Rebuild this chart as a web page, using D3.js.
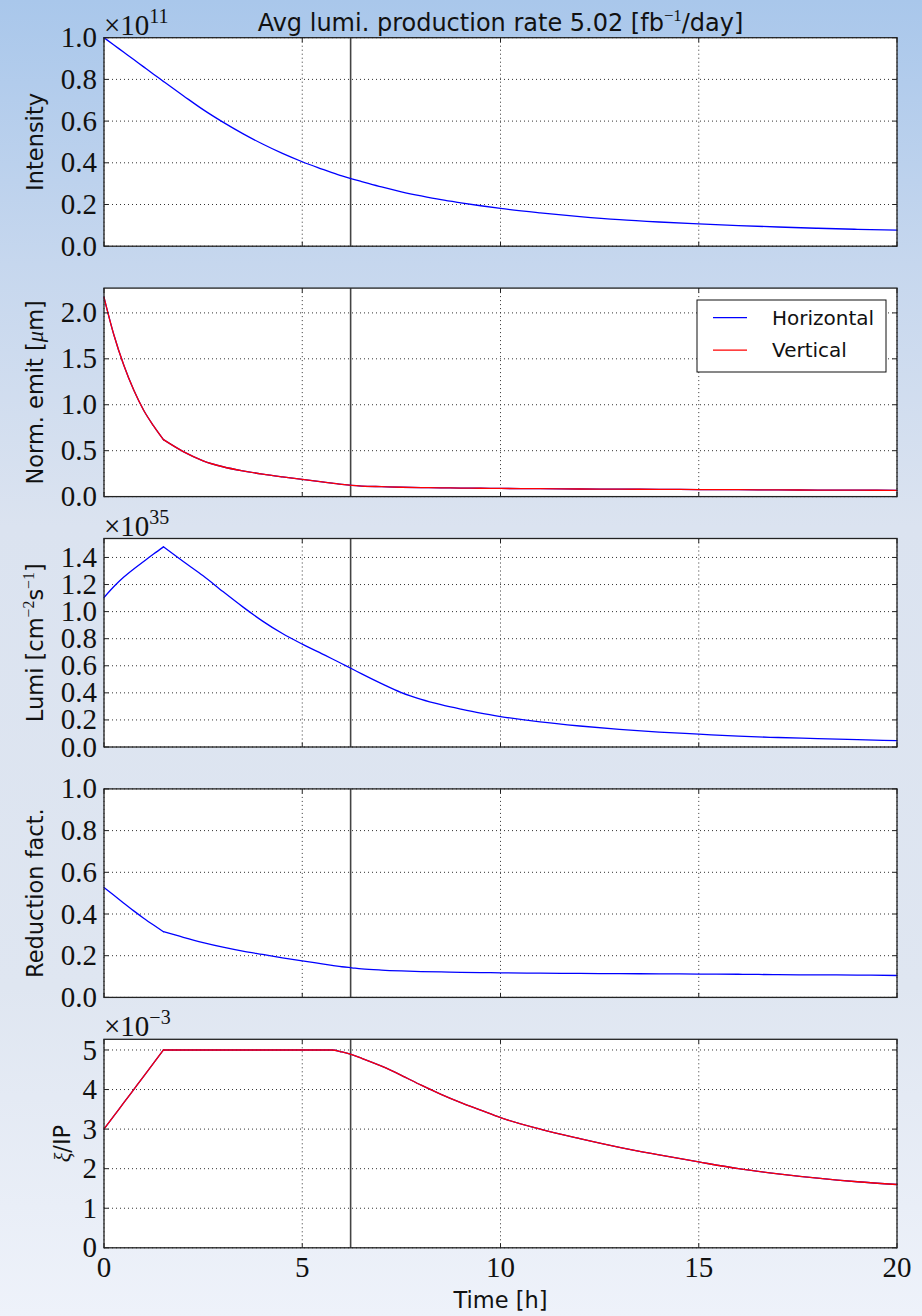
<!DOCTYPE html>
<html lang="en">
<head>
<meta charset="UTF-8">
<title>Avg lumi. production rate</title>
<script src="https://d3js.org/d3.v7.min.js"></script>
<style>
    body { margin: 0; padding: 0; overflow: hidden; }
    svg { display: block; }
    .tick-label { font-family: "Liberation Serif", serif; font-size: 29px; fill: #111; }
    .axis-label { font-family: "DejaVu Sans", sans-serif; font-size: 22.5px; fill: #111; }
    .grid { stroke: #333; stroke-width: 1; stroke-dasharray: 1,3; }
    .spine { fill: none; stroke: #222; stroke-width: 1.3; }
    .legend text { font-family: "DejaVu Sans", sans-serif; font-size: 20px; fill: #111; }
</style>
</head>
<body>
<svg id="chart"></svg>
<script>
// time axis [h], shared by every series
const time = [0, 0.25, 0.5, 0.75, 1, 1.25, 1.5, 2, 2.5, 3, 3.5, 4, 4.5, 5, 5.5, 5.75, 6, 6.25, 6.5, 7, 7.5, 8, 8.5, 9, 9.5, 10, 11, 12, 13, 14, 15, 16, 17, 18, 19, 20];

// intensity, x1e11
const intensity = [1.0, 0.965, 0.93, 0.895, 0.86, 0.825, 0.79, 0.722, 0.655, 0.595, 0.54, 0.49, 0.445, 0.405, 0.37, 0.353, 0.337, 0.323, 0.31, 0.284, 0.261, 0.241, 0.223, 0.208, 0.194, 0.181, 0.16, 0.142, 0.127, 0.116, 0.107, 0.099, 0.092, 0.086, 0.081, 0.077];

// normalised emittance [um]
const emitH = [2.17, 1.76, 1.43, 1.16, 0.94, 0.77, 0.62, 0.49, 0.39, 0.325, 0.28, 0.245, 0.215, 0.187, 0.16, 0.147, 0.133, 0.122, 0.115, 0.108, 0.102, 0.098, 0.095, 0.093, 0.091, 0.089, 0.086, 0.083, 0.081, 0.079, 0.077, 0.075, 0.073, 0.071, 0.07, 0.068];
const emitV = [2.17, 1.76, 1.43, 1.16, 0.94, 0.77, 0.62, 0.49, 0.39, 0.325, 0.28, 0.245, 0.215, 0.187, 0.16, 0.147, 0.133, 0.122, 0.115, 0.108, 0.102, 0.098, 0.095, 0.093, 0.091, 0.089, 0.086, 0.083, 0.081, 0.079, 0.077, 0.075, 0.073, 0.071, 0.07, 0.068];

// luminosity, x1e35 cm^-2 s^-1
const lumi = [1.104, 1.185, 1.255, 1.315, 1.37, 1.425, 1.478, 1.37, 1.265, 1.148, 1.035, 0.93, 0.838, 0.76, 0.688, 0.652, 0.615, 0.578, 0.54, 0.468, 0.402, 0.352, 0.313, 0.28, 0.25, 0.225, 0.185, 0.155, 0.13, 0.11, 0.095, 0.08, 0.07, 0.062, 0.054, 0.047];

// geometric reduction factor
const reduction = [0.527, 0.49, 0.452, 0.415, 0.38, 0.347, 0.315, 0.288, 0.263, 0.241, 0.222, 0.206, 0.19, 0.175, 0.161, 0.154, 0.147, 0.142, 0.137, 0.131, 0.127, 0.124, 0.122, 0.12, 0.119, 0.118, 0.116, 0.115, 0.114, 0.113, 0.112, 0.111, 0.109, 0.108, 0.107, 0.105];

// beam-beam parameter per IP, x1e-3
const xiH = [3.0, 3.333, 3.667, 4.0, 4.333, 4.667, 5.0, 5.0, 5.0, 5.0, 5.0, 5.0, 5.0, 5.0, 5.0, 5.0, 4.95, 4.88, 4.79, 4.59, 4.36, 4.11, 3.88, 3.67, 3.48, 3.29, 3.0, 2.76, 2.54, 2.35, 2.17, 2.0, 1.87, 1.76, 1.67, 1.6];
const xiV = [3.0, 3.333, 3.667, 4.0, 4.333, 4.667, 5.0, 5.0, 5.0, 5.0, 5.0, 5.0, 5.0, 5.0, 5.0, 5.0, 4.95, 4.88, 4.79, 4.59, 4.36, 4.11, 3.88, 3.67, 3.48, 3.29, 3.0, 2.76, 2.54, 2.35, 2.17, 2.0, 1.87, 1.76, 1.67, 1.6];

const tRampEnd = 1.5;          // end of the initial ramp (sharp kink in every curve)
const tLevel = 6.22;           // vertical marker
const xTicks = [0, 5, 10, 15, 20];
const legendNames = ["Horizontal", "Vertical"];

const BLUE = "#0000ff", RED = "#ff0000";

const W = 922, H = 1316;
const left = 104, right = 897;
const panelTop0 = 37.7, panelStep = 250.4, panelH = 208.5;

const svg = d3.select("#chart").attr("width", W).attr("height", H);

// background gradient
const defs = svg.append("defs");
const grad = defs.append("linearGradient").attr("id", "bg")
    .attr("x1", 0).attr("y1", 0).attr("x2", 0).attr("y2", 1);
[["0%", "#a9c7eb"], ["20%", "#c6d7ee"], ["40%", "#dbe3f0"], ["75%", "#dfe6f1"], ["100%", "#eef2fa"]]
    .forEach(s => grad.append("stop").attr("offset", s[0]).attr("stop-color", s[1]));
svg.append("rect").attr("width", W).attr("height", H).attr("fill", "url(#bg)");

const x = d3.scaleLinear().domain([0, 20]).range([left, right]);

// rich text helper: parts = [{t, sup, serif, italic}]
function richText(sel, parts, baseSize) {
    let raised = false;
    parts.forEach(p => {
        const ts = sel.append("tspan").text(p.t);
        if (p.serif) ts.attr("font-family", "'Liberation Serif', serif");
        if (p.italic) ts.attr("font-style", "italic");
        if (p.sup && !raised) { ts.attr("dy", -baseSize * 0.42); raised = true; }
        else if (!p.sup && raised) { ts.attr("dy", baseSize * 0.42); raised = false; }
        if (p.sup) ts.attr("font-size", baseSize * 0.7);
    });
}

const panels = [
    { series: [{ v: intensity, c: BLUE }], domain: [0, 1.0], ticks: d3.range(0, 1.01, 0.2), fmt: d3.format(".1f"),
      label: [{ t: "Intensity" }], labelX: 43, exp: "11" },
    { series: [{ v: emitH, c: BLUE }, { v: emitV, c: RED }], domain: [0, 2.27], ticks: d3.range(0, 2.01, 0.5), fmt: d3.format(".1f"),
      label: [{ t: "Norm. emit [" }, { t: "\u03bc", serif: true, italic: true }, { t: "m]" }], labelX: 43, legend: true },
    { series: [{ v: lumi, c: BLUE }], domain: [0, 1.54], ticks: d3.range(0, 1.41, 0.2), fmt: d3.format(".1f"),
      label: [{ t: "Lumi [cm" }, { t: "\u22122", sup: true, serif: true }, { t: "s" }, { t: "\u22121", sup: true, serif: true }, { t: "]" }], labelX: 43, exp: "35" },
    { series: [{ v: reduction, c: BLUE }], domain: [0, 1.0], ticks: d3.range(0, 1.01, 0.2), fmt: d3.format(".1f"),
      label: [{ t: "Reduction fact." }], labelX: 43 },
    { series: [{ v: xiH, c: BLUE }, { v: xiV, c: RED }], domain: [0, 5.27], ticks: d3.range(0, 5.01, 1), fmt: d3.format(".0f"),
      label: [{ t: "\u03be", serif: true, italic: true }, { t: "/IP" }], labelX: 70, exp: "\u22123", xAxis: true }
];

panels.forEach((p, i) => {
    const top = panelTop0 + i * panelStep, bottom = top + panelH;
    const y = d3.scaleLinear().domain(p.domain).range([bottom, top]);
    const g = svg.append("g");

    g.append("rect").attr("x", left).attr("y", top).attr("width", right - left).attr("height", panelH).attr("fill", "#fff");

    // grid
    g.selectAll(".hgrid").data(p.ticks).enter().append("line").attr("class", "grid")
        .attr("x1", left).attr("x2", right).attr("y1", d => y(d)).attr("y2", d => y(d));
    g.selectAll(".vgrid").data(xTicks).enter().append("line").attr("class", "grid")
        .attr("x1", d => x(d)).attr("x2", d => x(d)).attr("y1", top).attr("y2", bottom);

    // vertical marker
    g.append("line").attr("x1", x(tLevel)).attr("x2", x(tLevel)).attr("y1", top).attr("y2", bottom)
        .attr("stroke", "#444").attr("stroke-width", 1.6);

    // series: smooth within each phase, sharp corner at the ramp end
    const line = d3.line().x(d => x(d[0])).y(d => y(d[1])).curve(d3.curveMonotoneX);
    p.series.forEach(s => {
        const pts = time.map((t, k) => [t, s.v[k]]);
        [pts.filter(d => d[0] <= tRampEnd), pts.filter(d => d[0] >= tRampEnd)].forEach(seg => {
            g.append("path").datum(seg).attr("d", line).attr("fill", "none")
                .attr("stroke", s.c).attr("stroke-width", 1.3).attr("stroke-linecap", "round");
        });
    });

    // inward ticks on all four sides
    const tl = 4.5;
    p.ticks.forEach(t => {
        g.append("line").attr("x1", left).attr("x2", left + tl).attr("y1", y(t)).attr("y2", y(t)).attr("stroke", "#222");
        g.append("line").attr("x1", right - tl).attr("x2", right).attr("y1", y(t)).attr("y2", y(t)).attr("stroke", "#222");
    });
    xTicks.forEach(t => {
        g.append("line").attr("x1", x(t)).attr("x2", x(t)).attr("y1", top).attr("y2", top + tl).attr("stroke", "#222");
        g.append("line").attr("x1", x(t)).attr("x2", x(t)).attr("y1", bottom - tl).attr("y2", bottom).attr("stroke", "#222");
    });

    g.append("rect").attr("class", "spine").attr("x", left).attr("y", top).attr("width", right - left).attr("height", panelH);

    // y tick labels
    g.selectAll(".ytl").data(p.ticks).enter().append("text").attr("class", "tick-label")
        .attr("x", left - 7).attr("y", d => y(d)).attr("dy", "0.33em").attr("text-anchor", "end")
        .text(d => p.fmt(d));

    // multiplier text
    if (p.exp) {
        const e = g.append("text").attr("class", "tick-label").attr("x", left).attr("y", top - 3);
        e.append("tspan").text("\u00d710");
        e.append("tspan").attr("dy", -12).attr("font-size", 20).text(p.exp);
    }

    // y label
    const lab = g.append("text").attr("class", "axis-label").attr("text-anchor", "middle")
        .attr("transform", `translate(${p.labelX},${(top + bottom) / 2}) rotate(-90)`);
    richText(lab, p.label, 22.5);

    if (p.legend) {
        const lg = g.append("g").attr("class", "legend");
        lg.append("rect").attr("x", 697).attr("y", 300).attr("width", 189).attr("height", 72)
            .attr("fill", "#fff").attr("stroke", "#111").attr("stroke-width", 1);
        p.series.forEach((s, k) => {
            const ly = 317.7 + k * 32.5;
            lg.append("line").attr("x1", 713).attr("x2", 747).attr("y1", ly).attr("y2", ly)
                .attr("stroke", s.c).attr("stroke-width", 1.3);
            lg.append("text").attr("x", 772).attr("y", ly).attr("dy", "0.36em").text(legendNames[k]);
        });
    }

    if (p.xAxis) {
        g.selectAll(".xtl").data(xTicks).enter().append("text").attr("class", "tick-label")
            .attr("x", d => x(d)).attr("y", bottom + 29).attr("text-anchor", "middle").text(d => d);
        g.append("text").attr("class", "axis-label").attr("x", (left + right) / 2).attr("y", 1308)
            .attr("text-anchor", "middle").text("Time [h]");
    }
});

// title
const title = svg.append("text").attr("class", "axis-label").attr("x", (left + right) / 2).attr("y", 31)
    .attr("text-anchor", "middle").style("font-size", "24px");
richText(title, [{ t: "Avg lumi. production rate 5.02 [fb" }, { t: "\u22121", sup: true, serif: true }, { t: "/day]" }], 24);
</script>
</body>
</html>
